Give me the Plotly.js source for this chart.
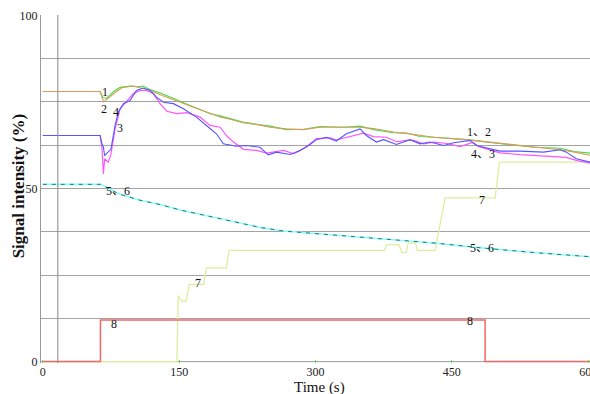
<!DOCTYPE html>
<html>
<head>
<meta charset="utf-8">
<script src="https://cdn.plot.ly/plotly-3.0.1.min.js"></script>
<style>html,body{margin:0;padding:0;background:#fff;}#chart{width:590px;height:394px;}</style>
</head>
<body>
<div id="chart"></div>
<script>
// Series 1 (green)
var t1 = [0, 63, 66, 70, 78, 85, 96, 105, 110, 118, 130, 140, 152, 162, 174, 184, 196, 206, 220, 239, 250, 268, 287, 305, 331, 349, 364, 386, 400, 415, 430, 466, 503, 540, 569, 585, 602];
var v1 = [78, 78, 76.3, 76.0, 78, 79.2, 79.6, 79.4, 79.6, 78.6, 77.5, 76.4, 75.2, 74, 72.6, 71.6, 70.9, 70.1, 69.2, 68.4, 68.0, 67.0, 67.1, 67.9, 67.7, 68.0, 67.0, 66.1, 66, 65, 64.8, 64.1, 62.9, 61.9, 61.6, 60.7, 60.2];
// Series 2 (orange)
var t2 = [0, 63, 67, 74, 80, 87, 99, 108, 118, 130, 140, 152, 162, 174, 184, 196, 206, 220, 239, 250, 268, 287, 305, 331, 349, 364, 386, 400, 415, 430, 466, 503, 540, 569, 585, 602];
var v2 = [78, 78, 75, 76.6, 77.8, 79.1, 79.6, 79.0, 78.3, 77.0, 76.1, 74.8, 73.8, 72.6, 71.7, 70.6, 70.0, 69.0, 68.3, 67.7, 67.2, 67.0, 67.7, 67.6, 67.7, 67.3, 66.3, 65.9, 65.4, 64.8, 64.1, 63.0, 62.0, 61.2, 60.5, 59.6];
// Series 3 (magenta)
var t3 = [0, 30, 63, 65, 66.7, 68, 72, 75, 79.5, 85, 92, 99.7, 107, 114, 121.7, 129, 136.4, 147.4, 158.4, 173, 184, 195, 202, 209.7, 220.7, 235.4, 246, 265, 276, 290, 301, 316, 323, 338, 352.7, 363.7, 378, 389, 400, 408, 419, 430, 445, 459, 473, 480, 503, 525, 551, 576, 587, 602];
var v3 = [65.3, 65.2, 65.3, 62, 54.2, 58.6, 57.6, 60, 67.2, 73, 75.1, 77.4, 78.3, 78.3, 77.4, 74.5, 72.3, 71.6, 71.9, 70.6, 68.2, 67.7, 65.3, 63.4, 61.3, 61, 60.2, 61, 60, 62, 64.4, 64.6, 64, 65, 66, 65, 64.8, 63.5, 63.9, 63.9, 62.9, 63.4, 63, 62.1, 63.3, 62.1, 60.3, 59.8, 59.3, 59, 58.1, 57.3];
// Series 4 (blue)
var t4 = [0, 30, 63, 65, 66.7, 68, 72, 75, 79.5, 83, 88.7, 96, 103, 110.7, 118, 125, 132.7, 143.7, 154.7, 169, 180, 191, 198.7, 213, 224, 239, 248, 257, 272, 283, 294, 301, 312, 323, 334, 349, 356, 367, 375, 389, 404, 415, 426, 441, 452, 470, 477, 503, 525, 551, 569, 576, 587, 602];
var v4 = [65.3, 65.4, 65.3, 63, 61.9, 59.5, 60.5, 61.4, 68.2, 72, 74.5, 75.4, 78.3, 79, 78.3, 76.4, 74.9, 74.5, 73, 70.6, 68.2, 65.8, 62.9, 62.2, 62.4, 61.9, 59.7, 60.5, 59.8, 61, 62.7, 64.1, 64.8, 63.7, 65.8, 67.2, 65.3, 63.4, 64.1, 62.7, 64.1, 62.9, 63.4, 62.4, 63.2, 63.9, 62.4, 60.8, 60.8, 60.5, 61.2, 60.5, 58.6, 57.6];
// Series 5 / 6 (cyan / dark teal, overlapping)
var t5 = [0, 64, 75, 85, 107, 130, 151, 180, 213, 240, 265, 300, 327, 371, 433, 488, 540, 602];
var v5 = [51.2, 51.2, 49.6, 48.3, 46.6, 45.3, 43.8, 42.2, 40.4, 38.7, 37.7, 37.0, 36.4, 35.5, 34.2, 32.7, 31.5, 30.3];
var v6 = [51.2, 51.2, 49.6, 48.3, 46.6, 45.3, 43.8, 42.2, 40.4, 38.7, 37.7, 37.0, 36.4, 35.5, 34.2, 32.7, 31.5, 30.3];
// Series 7 (pale yellow-green)
var t7 = [0, 147.5, 149, 153, 157.6, 161, 177, 180, 202, 205, 376, 378, 392, 395, 400, 402, 410, 412, 431.6, 435, 439, 442.6, 497.6, 502.3, 602];
var v7 = [0, 0, 19.1, 17.4, 17.4, 22.3, 22.3, 27.1, 27.1, 32.1, 32.1, 33.7, 33.7, 31.4, 31.6, 34.2, 34.2, 32.1, 32.1, 36.9, 43.2, 47.3, 47.3, 57.6, 57.6];
// Series 8 (red)
var t8 = [0, 63.4, 63.4, 486.6, 486.6, 602];
var v8 = [0, 0, 12, 12, 0, 0];

// Labels
var annoText = ['1', '2', '4', '3', '5、6', '7', '8', '1、2', '4、3', '7', '5、6', '8'];
var annoX = [68.5, 67.8, 80.8, 84.8, 83, 171, 78.4, 480, 484.5, 483, 483, 470];
var annoY = [78, 73, 72.2, 67.6, 49.2, 22.6, 10.9, 66.3, 60, 46.7, 32.7, 11.6];

var xTicks = [0, 150, 300, 450, 600];
var yTicks = [0, 12.5, 25, 37.5, 50, 62.5, 75, 87.5, 100];
var yTickText = ['0', '', '', '', '50', '', '', '', '100'];
var markerT = 16.5;
var xTitle = 'Time (s)';
var yTitle = 'Signal intensity (%)';

function line(x, y, color, width, dash) {
  return {x: x, y: y, type: 'scatter', mode: 'lines', hoverinfo: 'skip',
    line: {color: color, width: width, dash: dash || 'solid'}};
}

var traces = [
  line(t7, v7, '#dcefa0', 1.3),
  line(t8, v8, '#f06868', 1.5),
  line(t5, v5, '#88ffff', 1.6),
  line(t5, v6, '#2f7070', 1, '4px,5px'),
  line(t1, v1, '#44dd44', 1.1),
  line(t2, v2, '#dd9a5e', 1.1),
  line(t3, v3, '#ff55ff', 1.2),
  line(t4, v4, '#5555ff', 1.1)
];

var annos = annoText.map(function (s, i) {
  return {x: annoX[i], y: annoY[i], xref: 'x', yref: 'y', text: s, showarrow: false,
    font: {family: 'Liberation Serif, Noto Sans CJK SC, serif', size: 12, color: '#111'}};
});
annos.push({xref: 'paper', yref: 'paper', x: 0.508, y: -0.069, xanchor: 'center', yanchor: 'middle',
  text: xTitle, showarrow: false,
  font: {family: 'Liberation Serif, serif', size: 15, color: '#111'}});
annos.push({xref: 'paper', yref: 'paper', x: -0.041, y: 0.509, xanchor: 'center', yanchor: 'middle',
  text: '<b>' + yTitle + '</b>', textangle: -90, showarrow: false,
  font: {family: 'Liberation Serif, serif', size: 17, color: '#111'}});

var layout = {
  width: 590, height: 394,
  margin: {l: 41, r: 0, t: 15, b: 31},
  paper_bgcolor: '#fff', plot_bgcolor: '#fff',
  showlegend: false,
  font: {family: 'Liberation Serif, serif', color: '#222'},
  xaxis: {
    range: [-2, 602], tickvals: xTicks, ticktext: xTicks.map(String),
    showgrid: false, zeroline: false, showline: false,
    ticks: 'inside', ticklen: 3, tickcolor: '#44ee44', tickwidth: 1,
    ticklabeloverflow: 'allow',
    tickfont: {size: 12, family: 'Liberation Serif, serif', color: '#222'}
  },
  yaxis: {
    range: [-0.4, 100.1], tickvals: yTicks, ticktext: yTickText,
    showgrid: true, gridcolor: '#a3a3a3', gridwidth: 1,
    zeroline: false, showline: true, linecolor: '#999', linewidth: 1,
    ticks: '', tickfont: {size: 12, family: 'Liberation Serif, serif', color: '#222'}
  },
  shapes: [
    {type: 'line', xref: 'x', yref: 'paper', x0: markerT, x1: markerT, y0: 0, y1: 1,
      line: {color: '#888', width: 1}},
    {type: 'line', xref: 'paper', yref: 'y', x0: 0, x1: 1, y0: 0, y1: 0,
      line: {color: '#a3a3a3', width: 1}, layer: 'below'}
  ],
  annotations: annos
};

Plotly.newPlot('chart', traces, layout, {displayModeBar: false, staticPlot: true});
</script>
</body>
</html>
